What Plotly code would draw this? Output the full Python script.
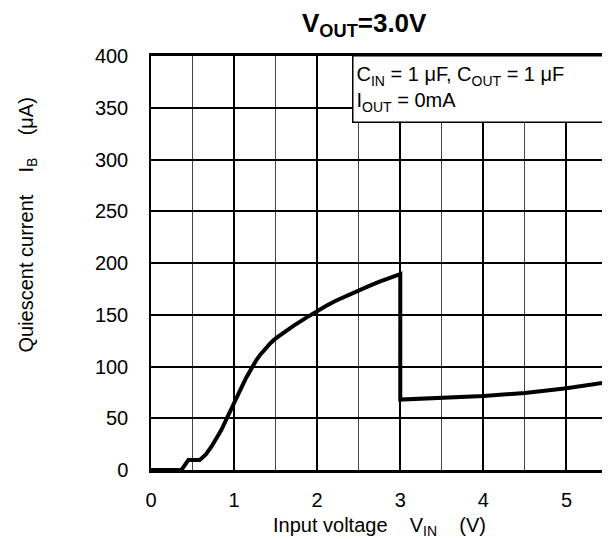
import plotly.graph_objects as go

# Data
vin = [0.0, 0.367, 0.45, 0.47, 0.587, 0.66, 0.727, 0.846, 0.926, 1.0, 1.05, 1.105,
       1.146, 1.2, 1.266, 1.32, 1.386, 1.44, 1.497, 1.6, 1.705, 1.85, 1.996, 2.11,
       2.224, 2.36, 2.503, 2.62, 2.743, 2.86, 2.98, 3.0, 3.0, 3.5, 4.0, 4.5, 5.0, 5.5]
ib = [0.0, 0.0, 9.7, 9.7, 9.7, 15.0, 22.5, 38.6, 51.5, 64.5, 73.2, 82.5,
      89.2, 97.4, 106.0, 111.9, 118.3, 122.8, 126.9, 133.0, 138.8, 146.3, 153.6, 158.7,
      163.5, 168.7, 173.7, 177.7, 181.8, 185.5, 189.0, 189.2, 68.0, 69.5, 71.5,
      74.5, 79.0, 85.0]

x_ticks = [0, 1, 2, 3, 4, 5]
y_ticks = [0, 50, 100, 150, 200, 250, 300, 350, 400]

font_family = "Liberation Sans, Arial, sans-serif"

# page offset (browser body margin) compensation
OFF = 8
PL, PR, PT, PB = 151, 610, 56, 470  # plot area in page pixels
PW, PH = PR - PL, PB - PT


def px(xp):
    return (xp - PL) / PW


def py(yp):
    return (PB - yp) / PH


fig = go.Figure()
fig.add_trace(go.Scatter(x=vin, y=ib, mode="lines",
                         line=dict(color="black", width=4), showlegend=False))

fig.update_layout(
    width=610, height=539,
    margin=dict(l=PL - OFF, r=610 - (PR - OFF), t=PT - OFF, b=539 - (PB - OFF)),
    paper_bgcolor="white", plot_bgcolor="white",
    font=dict(family=font_family, color="black"),
    xaxis=dict(range=[0, 5.5], tickvals=x_ticks, ticktext=[str(v) for v in x_ticks],
               showgrid=True, gridcolor="black", gridwidth=2,
               minor=dict(dtick=0.5, showgrid=True, gridcolor="#444444", gridwidth=1),
               showline=True, linecolor="black", linewidth=2.5, mirror=True,
               zeroline=False, tickfont=dict(size=20), ticks="",
               ticklabelstandoff=10),
    yaxis=dict(range=[0, 400], tickvals=y_ticks, ticktext=[str(v) for v in y_ticks],
               showgrid=True, gridcolor="black", gridwidth=2,
               showline=True, linecolor="black", linewidth=1.5, mirror=True,
               zeroline=False, tickfont=dict(size=20), ticks="",
               ticklabelstandoff=17),
    annotations=[
        dict(text="<b>V<sub>OUT</sub>=3.0V</b>", xref="paper", yref="paper",
             x=px(365), y=py(24), xanchor="center", yanchor="middle",
             showarrow=False, font=dict(size=26)),
        dict(text="Quiescent current    I<sub>B</sub>    (μA)", xref="paper", yref="paper",
             x=px(26), y=py(225), xanchor="center", yanchor="middle",
             textangle=-90, showarrow=False, font=dict(size=20)),
        dict(text="Input voltage    V<sub>IN</sub>    (V)", xref="paper", yref="paper",
             x=px(381), y=py(526), xanchor="center", yanchor="middle",
             showarrow=False, font=dict(size=20)),
        dict(text="C<sub>IN</sub> = 1 μF, C<sub>OUT</sub> = 1 μF<br>I<sub>OUT</sub> = 0mA",
             xref="paper", yref="paper", x=px(353), y=py(55),
             xanchor="left", yanchor="top", align="left", showarrow=False,
             bgcolor="white", bordercolor="black", borderwidth=1.5, borderpad=3,
             width=243, height=59, font=dict(size=20)),
    ],
)

fig.write_html("out.html")
